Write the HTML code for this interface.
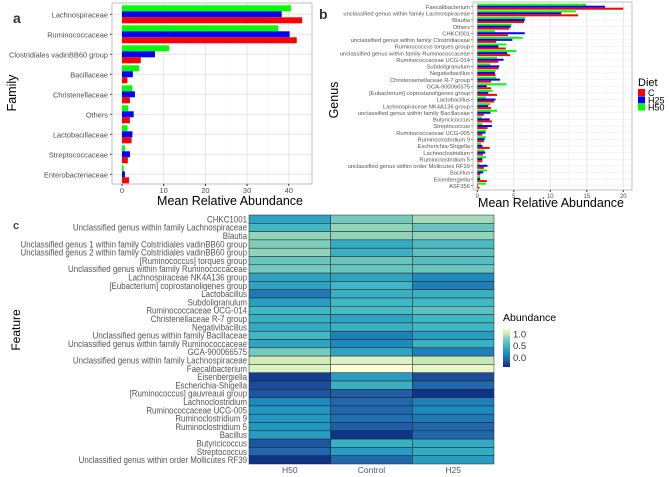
<!DOCTYPE html>
<html><head><meta charset="utf-8"><style>
html,body{margin:0;padding:0;background:#fff;}
svg{display:block;font-family:"Liberation Sans",sans-serif;}
</style></head><body>
<svg id="fig" width="669" height="477" viewBox="0 0 669 477" xmlns="http://www.w3.org/2000/svg">
<g id="pa"></g>
<g id="pb"></g>
<g id="pc"></g>
</svg>
<script>
// ---- Panel a data ----
const famCats = ["Lachnospiraceae","Ruminococcaceae","Clostridiales vadinBB60 group","Bacillaceae","Christenellaceae","Others","Lactobacillaceae","Streptococcaceae","Enterobacteriaceae"];
const famH50 = [40.5,37.5,11.3,4.1,2.5,1.5,1.3,0.7,0.4];
const famH25 = [38.3,40.2,7.9,2.6,3.1,2.8,2.5,1.9,0.7];
const famC   = [43.2,41.9,4.5,1.3,1.9,1.9,2.3,1.4,1.7];
const famTicks = [0,10,20,30,40];
// ---- Panel b data ----
const genCats = ["Faecalibacterium","unclassified genus within family Lachnospiraceae","Blautia","Others","CHKCI001","unclassified genus within family Clostridiaceae","Ruminococcus torques group","unclassified genus within family Ruminococcaceae","Ruminococcaceae UCG-014","Subdoligranulum","Negativibacillus","Christensenellaceae R-7 group","GCA-900066575","[Eubacterium] coprostanoligenes group","Lactobacillus","Lachnospiraceae NK4A136 group","unclassified genus within family Bacillaceae","Butyricicoccus","Streptococcus","Ruminococcaceae UCG-005","Ruminoclostridium 9","Escherichia-Shigella","Lachnoclostridium","Ruminiclostridium 5","unclassified genus within order Mollicutes RF39","Bacillus","Eisenbergiella","ASF356"];
const genH50 = [14.9,13.5,6.6,4.7,2.4,6.2,4.0,5.3,2.7,1.8,2.5,2.6,4.0,2.1,1.2,1.8,2.7,0.6,0.7,1.2,1.2,0.5,1.0,1.2,0.3,1.3,0.4,1.2];
const genH25 = [17.5,11.5,6.5,4.6,6.5,4.8,2.9,4.1,3.6,3.0,2.4,3.1,1.3,1.5,2.5,1.5,1.8,1.7,2.0,1.1,1.0,0.7,1.1,0.7,1.4,0.8,0.4,0.1];
const genC   = [20.0,13.8,6.4,4.4,4.2,2.6,3.9,4.5,2.9,2.9,2.5,1.9,1.9,2.7,2.3,1.9,0.9,2.0,1.4,0.7,0.9,1.7,0.8,0.7,0.9,0.4,1.3,0.3];
const genTicks = [0,5,10,15,20];
// ---- Panel c data ----
const hmRows = ["CHKC1001","Unclassified genus within family Lachnospiraceae","Blautia","Unclassified genus 1 within family Colstridiales vadinBB60 group","Unclassified genus 2 within family Colstridiales vadinBB60 group","[Ruminococcus] torques group","Unclassified genus within family Ruminococcaceae","Lachnospiraceae NK4A136 group","[Eubacterium] coprostanoligenes group","Lactobacillus","Subdoligranulum","Ruminococcaceae UCG-014","Christenellaceae R-7 group","Negativibacillus","Unclassified genus within family Bacillaceae","Unclassified genus within family Ruminococcaceae","GCA-900066575","Unclassified genus within family Lachnospiraceae","Faecalibacterium","Eisenbergiella","Escherichia-Shigella","[Ruminococcus] gauvreauii group","Lachnoclostridium","Ruminococcaceae UCG-005","Ruminoclostridium 9","Ruminoclostridium 5","Bacillus","Butyricicoccus","Streptococcus","Unclassified genus within order Mollicutes RF39"];
const hmCols = ["H50","Control","H25"];
const hmH50 = [0.35,0.5,0.85,0.8,0.85,0.7,0.75,0.35,0.35,0.05,0.3,0.5,0.45,0.4,0.5,0.35,0.75,1.05,1.1,-0.3,-0.2,-0.15,0.15,0.25,0.25,0.25,0.3,-0.15,-0.05,-0.35];
const hmCtrl = [0.75,0.85,0.85,0.4,0.45,0.7,0.7,0.35,0.5,0.45,0.5,0.55,0.35,0.45,0.1,0.15,0.35,1.1,1.25,0.3,0.45,-0.1,-0.05,-0.05,0.0,-0.1,-0.35,0.45,0.3,-0.05];
const hmH25 = [0.9,0.7,0.85,0.55,0.65,0.6,0.7,0.15,0.1,0.45,0.5,0.65,0.5,0.5,0.3,0.45,0.1,1.0,1.15,-0.2,-0.05,-0.35,0.1,0.15,0.05,-0.05,-0.05,0.4,0.4,0.3];
const legTicks = [1.0,0.5,0.0];

const NS="http://www.w3.org/2000/svg";
function mk(parent,tag,attrs,text){const e=document.createElementNS(NS,tag);for(const k in attrs)e.setAttribute(k,attrs[k]);if(text!==undefined)e.textContent=text;parent.appendChild(e);return e;}

// ===== Panel a =====
(function(){
  const g=document.getElementById('pa');
  const L=112,R=312,T=3,B=184;
  const x=v=>122+v*4.17;
  const y=i=>14.3+i*20;
  mk(g,'rect',{x:L,y:T,width:R-L,height:B-T,fill:'#fff'});
  for(let v=-5;v<=45;v+=5){if(x(v)<L||x(v)>R)continue;
    const gl=mk(g,'line',{x1:x(v),x2:x(v),y1:T,y2:B,stroke:v%10===0?'#e6e6e6':'#f2f2f2','stroke-width':v%10===0?1:0.6});
    }
  famCats.forEach((c,i)=>{mk(g,'line',{x1:L,x2:R,y1:y(i),y2:y(i),stroke:'#e6e6e6'});});
  const series=[[famH50,'#00ff00',-6],[famH25,'#0000ff',0],[famC,'#ff0000',6]];
  famCats.forEach((c,i)=>{
    series.forEach(([arr,col,off])=>{
      const r=mk(g,'rect',{x:x(0),y:y(i)+off-3,width:x(arr[i])-x(0),height:6,fill:col});
      
      
    });
    const t=mk(g,'text',{x:L-4,y:y(i)+3,'text-anchor':'end','font-size':7.4,fill:'#4d4d4d'},c);
    
    mk(g,'line',{x1:L-2,x2:L,y1:y(i),y2:y(i),stroke:'#333'});
  });
  mk(g,'rect',{x:L,y:T,width:R-L,height:B-T,fill:'none',stroke:'#b3b3b3','stroke-width':0.8});
  famTicks.forEach(v=>{mk(g,'line',{x1:x(v),x2:x(v),y1:B,y2:B+2,stroke:'#333'});
    const t=mk(g,'text',{x:x(v),y:B+9,'text-anchor':'middle','font-size':7.5,fill:'#4d4d4d'},v);
    });
  const xt=mk(g,'text',{x:230,y:205,'text-anchor':'middle','font-size':12.5,fill:'#000'},'Mean Relative Abundance');
  
  const yt=mk(g,'text',{x:0,y:0,transform:'translate(16,93) rotate(-90)','text-anchor':'middle','font-size':12.5},'Family');
  
  const lb=mk(g,'text',{x:13,y:23,'font-size':14,'font-weight':'bold',fill:'#333'},'a');
  
})();

// ===== Panel b =====
(function(){
  const g=document.getElementById('pb');
  const L=473,R=632,T=2,B=190;
  const x=v=>477.3+v*7.3;
  const y=i=>6.7+i*6.63;
  mk(g,'rect',{x:L,y:T,width:R-L,height:B-T,fill:'#fff'});
  for(let v=-2.5;v<=22.5;v+=2.5){if(x(v)<L||x(v)>R)continue;
    mk(g,'line',{x1:x(v),x2:x(v),y1:T,y2:B,stroke:v%5===0?'#e6e6e6':'#f2f2f2','stroke-width':v%5===0?1:0.6});}
  genCats.forEach((c,i)=>{mk(g,'line',{x1:L,x2:R,y1:y(i),y2:y(i),stroke:'#ececec','stroke-width':0.6});});
  const series=[[genH50,'#00ff00',-2],[genH25,'#0000ff',0],[genC,'#ff0000',2]];
  genCats.forEach((c,i)=>{
    series.forEach(([arr,col,off])=>{
      const r=mk(g,'rect',{x:x(0),y:y(i)+off-1,width:x(arr[i])-x(0),height:2,fill:col});
      
      
    });
    const t=mk(g,'text',{x:L-3,y:y(i)+2.2,'text-anchor':'end','font-size':5.8,fill:'#555'},c);
    
    mk(g,'line',{x1:L-2,x2:L,y1:y(i),y2:y(i),stroke:'#333','stroke-width':0.6});
  });
  mk(g,'rect',{x:L,y:T,width:R-L,height:B-T,fill:'none',stroke:'#b3b3b3','stroke-width':0.8});
  genTicks.forEach(v=>{mk(g,'line',{x1:x(v),x2:x(v),y1:B,y2:B+2,stroke:'#333'});
    const t=mk(g,'text',{x:x(v),y:B+8,'text-anchor':'middle','font-size':6,fill:'#4d4d4d'},v);
    });
  const xt=mk(g,'text',{x:551,y:207,'text-anchor':'middle','font-size':12.5},'Mean Relative Abundance');
  
  const yt=mk(g,'text',{x:0,y:0,transform:'translate(338,100) rotate(-90)','text-anchor':'middle','font-size':12.5},'Genus');
  
  const lb=mk(g,'text',{x:319,y:19,'font-size':14,'font-weight':'bold',fill:'#333'},'b');
  
  // legend
  const lt=mk(g,'text',{x:638,y:86,'font-size':11},'Diet');
  
  [['C','#ff0000'],['H25','#0000ff'],['H50','#00ff00']].forEach(([n,col],k)=>{
    const e=mk(g,'g',{});
    
    
    mk(e,'rect',{x:638,y:89+k*7.3,width:7,height:7,fill:col});
    mk(e,'text',{x:648,y:96+k*7.3,'font-size':9},n);
  });
})();

// ===== Panel c =====
(function(){
  const g=document.getElementById('pc');
  const L=249,R=494,T=215,B=464;
  const cw=(R-L)/3, rh=(B-T)/hmRows.length;
  const stops=[[-0.4,[12,44,132]],[-0.1,[34,94,168]],[0.2,[29,145,192]],[0.5,[65,182,196]],[0.8,[127,205,187]],[1.0,[199,233,180]],[1.25,[255,255,217]]];
  function col(v){
    if(v<=stops[0][0])return 'rgb('+stops[0][1]+')';
    for(let i=1;i<stops.length;i++){if(v<=stops[i][0]){const[a,ca]=stops[i-1],[b,cb]=stops[i];const t=(v-a)/(b-a);
      return 'rgb('+ca.map((c,j)=>Math.round(c+(cb[j]-c)*t)).join(',')+')';}}
    return 'rgb('+stops[stops.length-1][1]+')';
  }
  const data=[hmH50,hmCtrl,hmH25];
  hmRows.forEach((r,i)=>{
    data.forEach((arr,j)=>{
      const c=mk(g,'rect',{x:L+j*cw,y:T+i*rh,width:cw,height:rh,fill:col(arr[i]),stroke:'#222','stroke-width':0.5});
      
      
    });
    const t=mk(g,'text',{x:0,y:0,transform:'translate('+(L-2)+','+(T+i*rh+rh/2+3.2)+') scale(0.86,1)','text-anchor':'end','font-size':9.2,fill:'#555'},r);
    
  });
  hmCols.forEach((c,j)=>{const t=mk(g,'text',{x:L+j*cw+cw/2,y:B+9,'text-anchor':'middle','font-size':8.5,fill:'#555'},c);
    });
  const yt=mk(g,'text',{x:0,y:0,transform:'translate(20,330) rotate(-90)','text-anchor':'middle','font-size':12},'Feature');
  
  const lb=mk(g,'text',{x:13,y:229,'font-size':11,'font-weight':'bold',fill:'#444'},'c');
  
  // legend
  const defs=mk(g,'defs',{});
  const lg=mk(defs,'linearGradient',{id:'grad',x1:0,y1:1,x2:0,y2:0});
  stops.forEach(([v,c])=>{mk(lg,'stop',{offset:((v+0.4)/1.65),'stop-color':'rgb('+c+')'});});
  const at=mk(g,'text',{x:503,y:321,'font-size':10.5},'Abundance');
  
  const bar=mk(g,'rect',{x:503,y:328,width:7,height:39,fill:'url(#grad)'});
  
  const ly=v=>367-(v+0.4)/1.65*39;
  legTicks.forEach(v=>{const t=mk(g,'text',{x:513,y:ly(v)+3.5,'font-size':9.5,fill:'#333'},v.toFixed(1));
    });
})();
</script>
</body></html>
